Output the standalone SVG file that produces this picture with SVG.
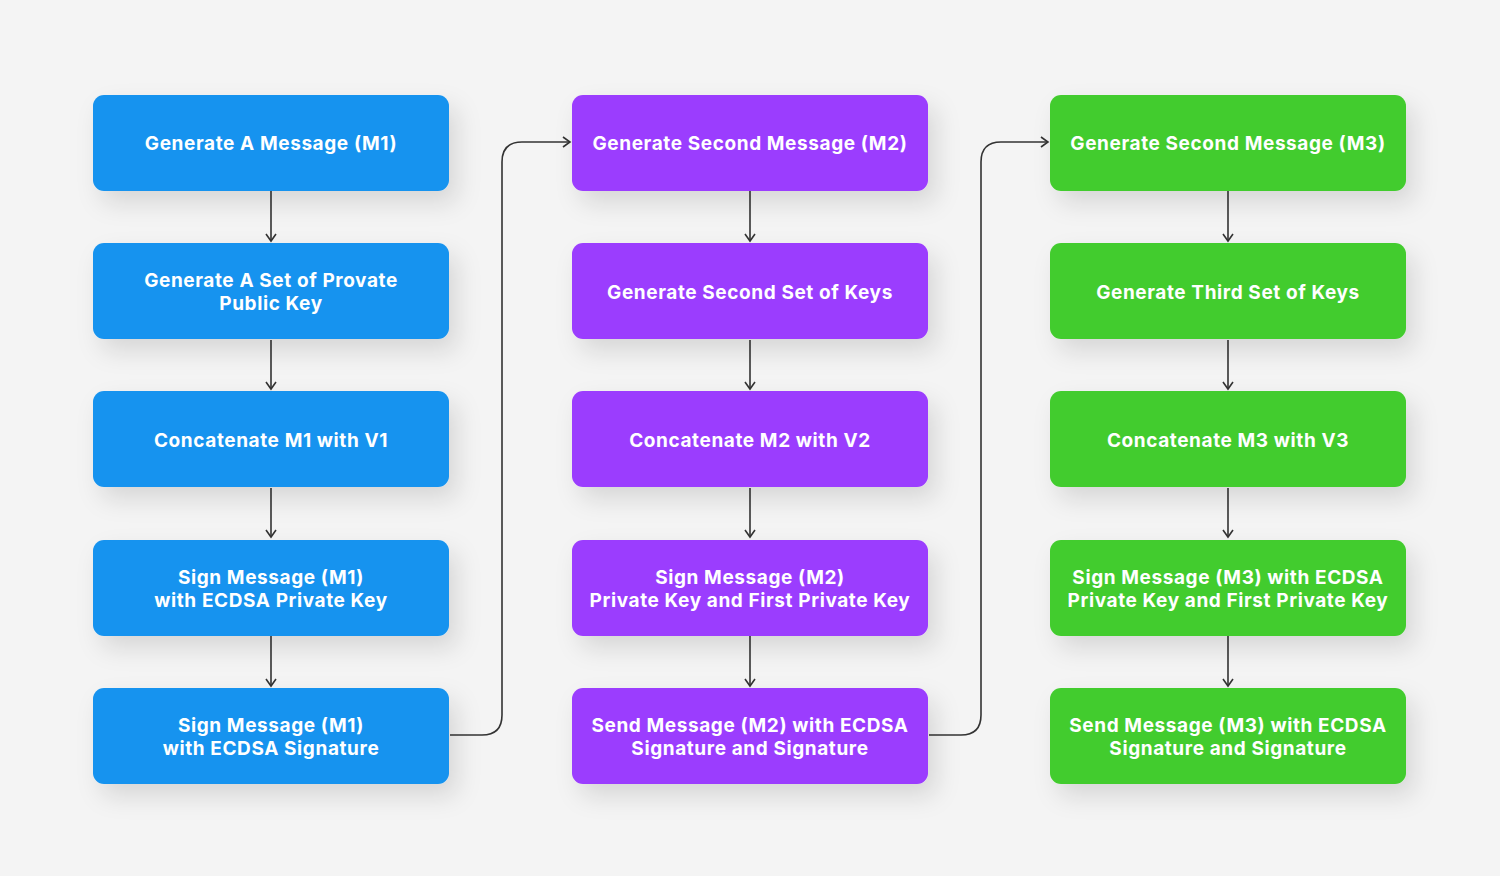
<svg xmlns="http://www.w3.org/2000/svg" width="1500" height="876" viewBox="0 0 1500 876">
<defs>
<filter id="sh" x="-20%" y="-30%" width="150%" height="180%"><feDropShadow dx="8" dy="12" stdDeviation="12" flood-color="#000" flood-opacity="0.12"/></filter>
<marker id="ah" markerWidth="12" markerHeight="12" refX="10" refY="6" orient="auto" markerUnits="userSpaceOnUse"><path d="M3,1 L10,6 L3,11" fill="none" stroke="#333" stroke-width="1.6"/></marker>
<style>
.b{fill:#1593EF}.p{fill:#9B3CFE}.g{fill:#43CC2F}
rect{filter:url(#sh)}
text{font-family:Inter,"Noto Sans",sans-serif;font-weight:700;font-size:19px;letter-spacing:0.6px;fill:#fff;text-anchor:middle}
.c path{fill:none;stroke:#333;stroke-width:1.6;marker-end:url(#ah)}
</style>
</defs>
<rect width="1500" height="876" fill="#f4f4f4" style="filter:none"/>
<g class="c" id="connectors">
<path d="M271,191 V241"/><path d="M271,340 V389"/><path d="M271,488 V537"/><path d="M271,636 V686"/>
<path d="M750,191 V241"/><path d="M750,340 V389"/><path d="M750,488 V537"/><path d="M750,636 V686"/>
<path d="M1228,191 V241"/><path d="M1228,340 V389"/><path d="M1228,488 V537"/><path d="M1228,636 V686"/>
<path d="M450,735 H482 Q502,735 502,715 V162 Q502,142 522,142 H570"/>
<path d="M929,735 H961 Q981,735 981,715 V162 Q981,142 1001,142 H1048"/>
</g>
<g id="n1"><rect class="b" x="93" y="95" width="356" height="96" rx="11"/><text x="271" y="150">Generate A Message (M1)</text></g>
<g id="n2"><rect class="b" x="93" y="243" width="356" height="96" rx="11"/><text x="271" y="287">Generate A Set of Provate</text><text x="271" y="310">Public Key</text></g>
<g id="n3"><rect class="b" x="93" y="391" width="356" height="96" rx="11"/><text x="271" y="447">Concatenate M1 with V1</text></g>
<g id="n4"><rect class="b" x="93" y="540" width="356" height="96" rx="11"/><text x="271" y="584">Sign Message (M1)</text><text x="271" y="607">with ECDSA Private Key</text></g>
<g id="n5"><rect class="b" x="93" y="688" width="356" height="96" rx="11"/><text x="271" y="732">Sign Message (M1)</text><text x="271" y="755">with ECDSA Signature</text></g>
<g id="n6"><rect class="p" x="572" y="95" width="356" height="96" rx="11"/><text x="750" y="150">Generate Second Message (M2)</text></g>
<g id="n7"><rect class="p" x="572" y="243" width="356" height="96" rx="11"/><text x="750" y="299">Generate Second Set of Keys</text></g>
<g id="n8"><rect class="p" x="572" y="391" width="356" height="96" rx="11"/><text x="750" y="447">Concatenate M2 with V2</text></g>
<g id="n9"><rect class="p" x="572" y="540" width="356" height="96" rx="11"/><text x="750" y="584">Sign Message (M2)</text><text x="750" y="607">Private Key and First Private Key</text></g>
<g id="n10"><rect class="p" x="572" y="688" width="356" height="96" rx="11"/><text x="750" y="732">Send Message (M2) with ECDSA</text><text x="750" y="755">Signature and Signature</text></g>
<g id="n11"><rect class="g" x="1050" y="95" width="356" height="96" rx="11"/><text x="1228" y="150">Generate Second Message (M3)</text></g>
<g id="n12"><rect class="g" x="1050" y="243" width="356" height="96" rx="11"/><text x="1228" y="299">Generate Third Set of Keys</text></g>
<g id="n13"><rect class="g" x="1050" y="391" width="356" height="96" rx="11"/><text x="1228" y="447">Concatenate M3 with V3</text></g>
<g id="n14"><rect class="g" x="1050" y="540" width="356" height="96" rx="11"/><text x="1228" y="584">Sign Message (M3) with ECDSA</text><text x="1228" y="607">Private Key and First Private Key</text></g>
<g id="n15"><rect class="g" x="1050" y="688" width="356" height="96" rx="11"/><text x="1228" y="732">Send Message (M3) with ECDSA</text><text x="1228" y="755">Signature and Signature</text></g>
</svg>
